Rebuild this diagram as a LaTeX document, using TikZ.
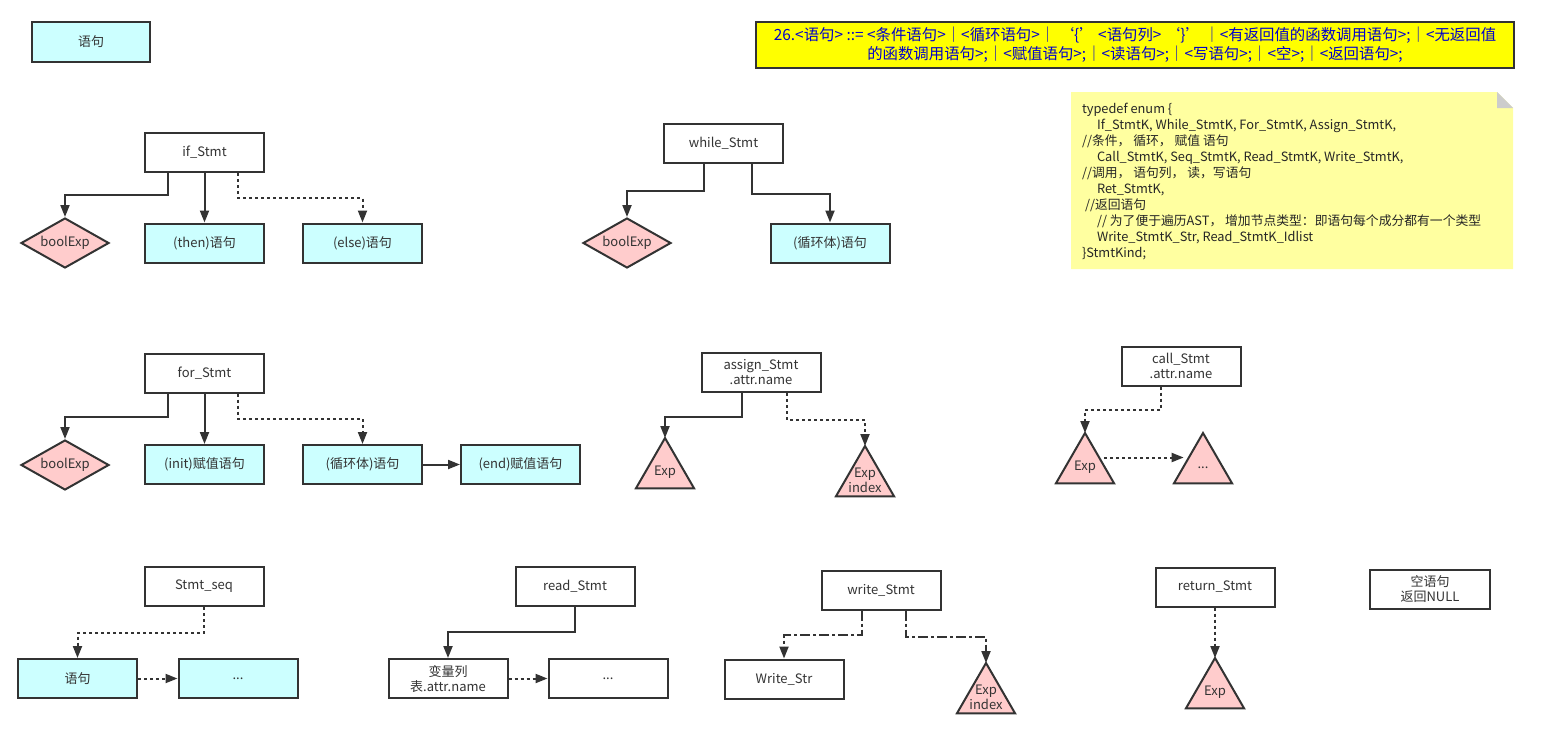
\documentclass[tikz,border=0pt]{standalone}
\usepackage{fontspec}
\setmainfont{Noto Sans CJK SC}
\usetikzlibrary{arrows.meta,shapes.geometric}
\definecolor{boxcyan}{HTML}{CCFFFF}
\definecolor{exppink}{HTML}{FFCCCC}
\definecolor{linegray}{HTML}{333333}
\definecolor{noteyellow}{HTML}{FFFFA0}
\definecolor{rulered}{HTML}{FFFF00}
\definecolor{ruleblue}{HTML}{0000CC}

\begin{document}
\begin{tikzpicture}[x=1pt,y=-1pt,line width=2pt,
  every node/.style={font=\fontsize{13}{15}\selectfont, text=linegray},
  stmtbox/.style={draw=linegray, fill=white, minimum width=119pt, minimum height=39pt,
    inner sep=0pt, align=center},
  cyanbox/.style={stmtbox, fill=boxcyan},
  condnode/.style={diamond, aspect=1.76, draw=linegray, fill=exppink,
    minimum width=88pt, minimum height=50pt, inner sep=0pt},
  exptri/.style={regular polygon, regular polygon sides=3, draw=linegray, fill=exppink,
    minimum size=67pt, inner sep=0pt, outer sep=0pt,
    label={[align=center, yshift=-1pt]center:#1}},
  link/.style={draw=linegray, -{Triangle[length=12pt,width=9pt]}},
  dotlink/.style={link, dash pattern=on 3pt off 3pt},
  dashdotlink/.style={link, dash pattern=on 10pt off 3pt on 3pt off 3pt}]
  \useasboundingbox[fill=white] (0,0) rectangle (1541,739);

  % title box and rule
  \node[cyanbox, minimum width=118pt, minimum height=40pt] (stmt) at (91,42) {语句};
  \node[draw=linegray, fill=rulered, minimum width=758pt, minimum height=46pt, inner sep=0pt,
    align=center, text=ruleblue, font=\fontsize{15.4}{19}\selectfont] (rule) at (1135,45)
    {26.<语句> ::=  <条件语句>｜<循环语句>｜ ‘\{’ <语句列>  ‘\}’ ｜<有返回值的函数调用语句>;｜<无返回值\\
     的函数调用语句>;｜<赋值语句>;｜<读语句>;｜<写语句>;｜<空>;｜<返回语句>;};

  % note with folded corner
  \fill[noteyellow] (1071,92) -- (1497,92) -- (1513,108) -- (1513,269) -- (1071,269) -- cycle;
  \fill[black!20] (1497,92) -- (1513,108) -- (1497,108) -- cycle;
  \node[anchor=north west, align=left, inner sep=0pt, text=black!85,
    font=\fontsize{12.8}{16}\selectfont] (note) at (1081,102)
    {typedef enum \{\\
     \hspace*{15pt}If\_StmtK, While\_StmtK, For\_StmtK, Assign\_StmtK,\\
     //条件， 循环， 赋值 语句\\
     \hspace*{15pt}Call\_StmtK, Seq\_StmtK, Read\_StmtK, Write\_StmtK,\\
     //调用， 语句列， 读，写语句\\
     \hspace*{15pt}Ret\_StmtK,\\
     \hspace*{3pt}//返回语句\\
     \hspace*{15pt}// 为了便于遍历AST， 增加节点类型：即语句每个成分都有一个类型\\
     \hspace*{15pt}Write\_StmtK\_Str, Read\_StmtK\_Idlist\\
     \}StmtKind;};

  % if
  \node[stmtbox] (ifS) at (204.5,152.5) {if\_Stmt};
  \node[condnode] (ifB) at (65,243) {boolExp};
  \node[cyanbox] (ifT) at (204.5,243) {(then)语句};
  \node[cyanbox] (ifE) at (362.5,243) {(else)语句};
  \draw[link] ([xshift=-36.5pt]ifS.south) -- ++(0,22) -| (ifB.north);
  \draw[link] (ifS) -- (ifT);
  \draw[dotlink] ([xshift=33.5pt]ifS.south) -- ++(0,25) -| (ifE.north);

  % while
  \node[stmtbox] (whS) at (723.5,143.5) {while\_Stmt};
  \node[condnode] (whB) at (627,243) {boolExp};
  \node[cyanbox] (whL) at (830,243) {(循环体)语句};
  \draw[link] ([xshift=-19.5pt]whS.south) -- ++(0,27) -| (whB.north);
  \draw[link] ([xshift=28.5pt]whS.south) -- ++(0,30) -| (whL.north);

  % for
  \node[stmtbox] (forS) at (204.5,373) {for\_Stmt};
  \node[condnode] (forB) at (65,465) {boolExp};
  \node[cyanbox] (forI) at (204.5,464.5) {(init)赋值语句};
  \node[cyanbox] (forL) at (362.5,464.5) {(循环体)语句};
  \node[cyanbox] (forE) at (520.5,464.5) {(end)赋值语句};
  \draw[link] ([xshift=-36.5pt]forS.south) -- ++(0,23) -| (forB.north);
  \draw[link] (forS) -- (forI);
  \draw[dotlink] ([xshift=33.5pt]forS.south) -- ++(0,25) -| (forL.north);
  \draw[link] (forL) -- (forE);

  % assign
  \node[stmtbox] (asS) at (761,372.5) {assign\_Stmt\\.attr.name};
  \node[exptri={Exp}] (asE) at (665,471.5) {};
  \node[exptri={Exp\\index}] (asI) at (865,479.5) {};
  \draw[link] ([xshift=-19pt]asS.south) -- ++(0,24) -| (asE.north);
  \draw[dotlink] ([xshift=26pt]asS.south) -- ++(0,27) -| (asI.north);

  % call
  \node[stmtbox] (caS) at (1181,366) {call\_Stmt\\.attr.name};
  \node[exptri={Exp}] (caE) at (1085,466.5) {};
  \node[exptri={...}] (caM) at (1203,466.5) {};
  \draw[dotlink] ([xshift=-20pt]caS.south) -- ++(0,23) -| (caE.north);
  \draw[dotlink] ([yshift=9pt]caE.east) -- ([yshift=9pt]caM.west);

  % statement sequence
  \node[stmtbox] (seqS) at (204,586.5) {Stmt\_seq};
  \node[cyanbox] (seqF) at (77.5,678.5) {语句};
  \node[cyanbox] (seqM) at (238,678.5) {...};
  \draw[dotlink] (seqS.south) -- ++(0,26) -| (seqF.north);
  \draw[dotlink] (seqF) -- (seqM);

  % read
  \node[stmtbox] (rdS) at (575,586.5) {read\_Stmt};
  \node[stmtbox] (rdV) at (448,678.5) {变量列\\表.attr.name};
  \node[stmtbox] (rdM) at (608,678.5) {...};
  \draw[link] (rdS.south) -- ++(0,25) -| (rdV.north);
  \draw[dotlink] (rdV) -- (rdM);

  % write
  \node[stmtbox] (wrS) at (881,590) {write\_Stmt};
  \node[stmtbox] (wrT) at (784,679) {Write\_Str};
  \node[exptri={Exp\\index}] (wrI) at (986,696.5) {};
  \draw[dashdotlink] ([xshift=-19pt]wrS.south) -- ++(0,24) -| (wrT.north);
  \draw[dashdotlink] ([xshift=25pt]wrS.south) -- ++(0,26) -| (wrI.north);

  % return and empty
  \node[stmtbox] (reS) at (1215,587) {return\_Stmt};
  \node[exptri={Exp}] (reE) at (1215,691.5) {};
  \draw[dotlink] (reS) -- (reE.north);
  \node[stmtbox, minimum width=120pt] (nullS) at (1430,589.5) {空语句\\返回NULL};
\end{tikzpicture}
\end{document}
